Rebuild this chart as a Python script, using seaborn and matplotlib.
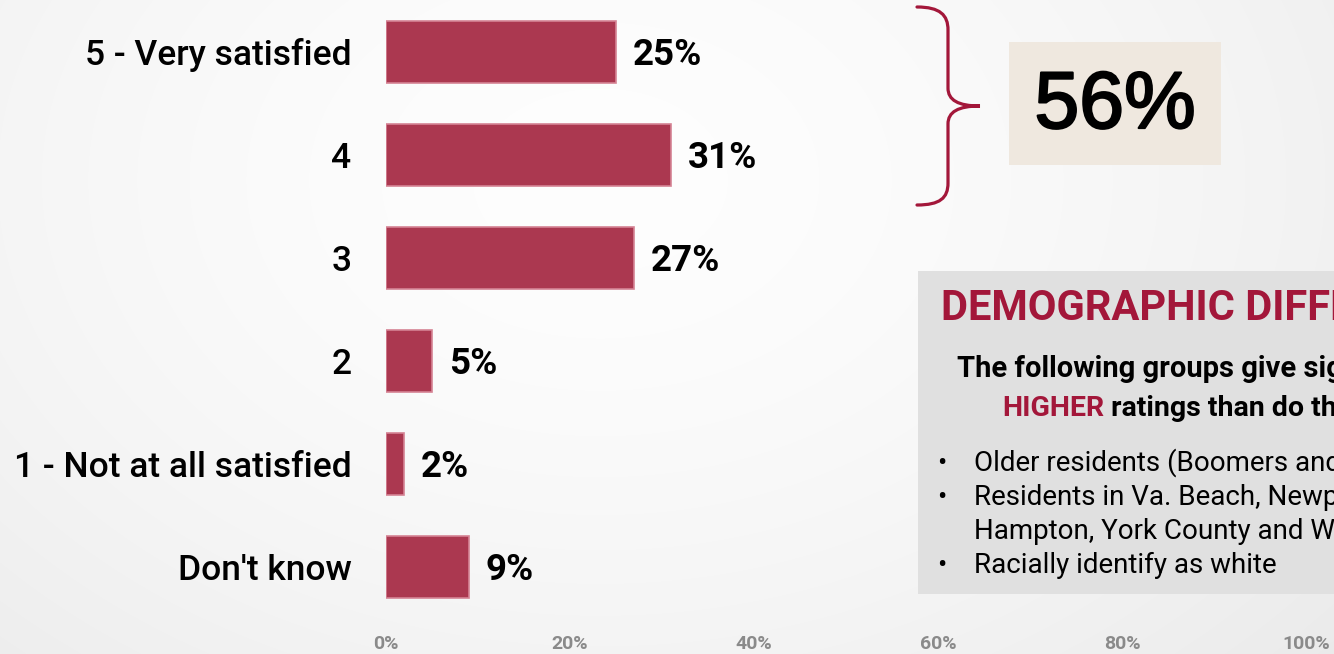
import numpy as np
import pandas as pd
import matplotlib
matplotlib.use("Agg")
import matplotlib.pyplot as plt
import matplotlib.patheffects as pe
import seaborn as sns
from matplotlib.patches import Rectangle, PathPatch
from matplotlib.path import Path

# Satisfaction ratings (percent of respondents)
categories = ["5 - Very satisfied", "4", "3", "2", "1 - Not at all satisfied", "Don't know"]
values = [25, 31, 27, 5, 2, 9]
xticks = [0, 20, 40, 60, 80, 100]
xtick_labels = ["0%", "20%", "40%", "60%", "80%", "100%"]
top_two_box = "56%"

panel_title = "DEMOGRAPHIC DIFFERENCES"
panel_line1 = "The following groups give significantly"
panel_line2_red = "HIGHER"
panel_line2 = " ratings than do their counterparts:"
bullets = [
    "Older residents (Boomers and Silent)",
    "Residents in Va. Beach, Newport News,",
    "Hampton, York County and Williamsburg",
    "Racially identify as white",
]
bullet_marks = [True, True, False, True]

sns.set_theme(style="white")
plt.rcParams["font.family"] = ["Roboto", "DejaVu Sans"]

BAR = "#ab3850"
BAR_EDGE = "#d58394"
RED = "#a3173a"

W, H = 1334, 654
fig = plt.figure(figsize=(W / 100, H / 100), dpi=100)

# soft radial backdrop
bg = fig.add_axes([0, 0, 1, 1])
yy, xx = np.mgrid[0:H, 0:W]
d = np.sqrt(((xx - 600) / 900.0) ** 2 + ((yy - 180) / 650.0) ** 2)
shade = 0.995 - 0.065 * np.clip(d, 0, 1.3) ** 1.6
bg.imshow(np.dstack([shade] * 3), extent=[0, W, H, 0], aspect="auto", zorder=0)
bg.set_xlim(0, W)
bg.set_ylim(H, 0)
bg.axis("off")

# bar chart
left, right = 386, 1306
top, bottom = 0.5, 618.5
ax = fig.add_axes([left / W, (H - bottom) / H, (right - left) / W, (bottom - top) / H])
ax.set_facecolor("none")
df = pd.DataFrame({"category": categories, "value": values})
sns.barplot(data=df, x="value", y="category", orient="h", color=BAR,
            width=0.6, saturation=1, edgecolor=BAR_EDGE, linewidth=1.2, ax=ax)
vlabels = ax.bar_label(ax.containers[0], labels=[f"{v}%" for v in values], padding=12,
                       fontsize=26.5, fontweight="bold", color="black")
for t in vlabels:
    t.xyann = (12, -2.5)
    t.set_va("center")
ax.set_xlim(0, 100)
ax.set_xticks(xticks)
ax.set_xticklabels(xtick_labels, color="#8a8a8a", fontsize=14, fontweight="bold")
ax.tick_params(axis="x", length=0, pad=12)
ax.tick_params(axis="y", length=0, pad=25)
for lab in ax.get_yticklabels():
    lab.set_fontsize(25.5)
    lab.set_fontweight("medium")
    lab.set_color("black")
ax.set_xlabel("")
ax.set_ylabel("")
for s in ax.spines.values():
    s.set_visible(False)
ax.grid(False)

# overlay in pixel coordinates for the annotation panels
ov = fig.add_axes([0, 0, 1, 1], facecolor="none")
ov.set_xlim(0, W)
ov.set_ylim(H, 0)
ov.axis("off")

# curly brace grouping the top two ratings
verts = [(917, 7), (940, 7), (948, 15), (948, 30),
         (948, 88),
         (948, 100), (958, 106), (980, 106),
         (958, 106), (948, 112), (948, 124),
         (948, 183),
         (948, 198), (940, 205), (917, 205)]
codes = [Path.MOVETO, Path.CURVE4, Path.CURVE4, Path.CURVE4,
         Path.LINETO,
         Path.CURVE4, Path.CURVE4, Path.CURVE4,
         Path.CURVE4, Path.CURVE4, Path.CURVE4,
         Path.LINETO,
         Path.CURVE4, Path.CURVE4, Path.CURVE4]
ov.add_patch(PathPatch(Path(verts, codes), facecolor="none", edgecolor=RED,
                       linewidth=2.3, capstyle="round"))

# top-two total
ov.add_patch(Rectangle((1009, 42), 212, 123, facecolor="#efe8df", edgecolor="none"))
ov.text(1115, 107, top_two_box, ha="center", va="center", fontsize=58,
        family=["Liberation Sans", "DejaVu Sans"], color="black",
        path_effects=[pe.withStroke(linewidth=1.6, foreground="black")])

# demographic differences panel
ov.add_patch(Rectangle((918, 271), 450, 323, facecolor="#e0e0e0", edgecolor="none"))
ov.text(941, 309, panel_title, ha="left", va="center", fontsize=30,
        color=RED, fontweight="bold")
ov.text(957, 369, panel_line1, ha="left", va="center", fontsize=21,
        fontweight="bold", color="black")
t = ov.text(1002, 408, panel_line2_red, ha="left", va="center", fontsize=20.5,
            fontweight="bold", color=RED)
fig.canvas.draw()
bb = t.get_window_extent()
ov.text(1002 + bb.width, 408, panel_line2, ha="left", va="center", fontsize=20.5,
        fontweight="bold", color="black")
for i, (line, mark) in enumerate(zip(bullets, bullet_marks)):
    y = 463 + i * 34.3
    if mark:
        ov.text(942, y, "\u2022", ha="center", va="center", fontsize=20, color="black")
    ov.text(974, y, line, ha="left", va="center", fontsize=20, color="black")

fig.savefig("out.png", dpi=100)
